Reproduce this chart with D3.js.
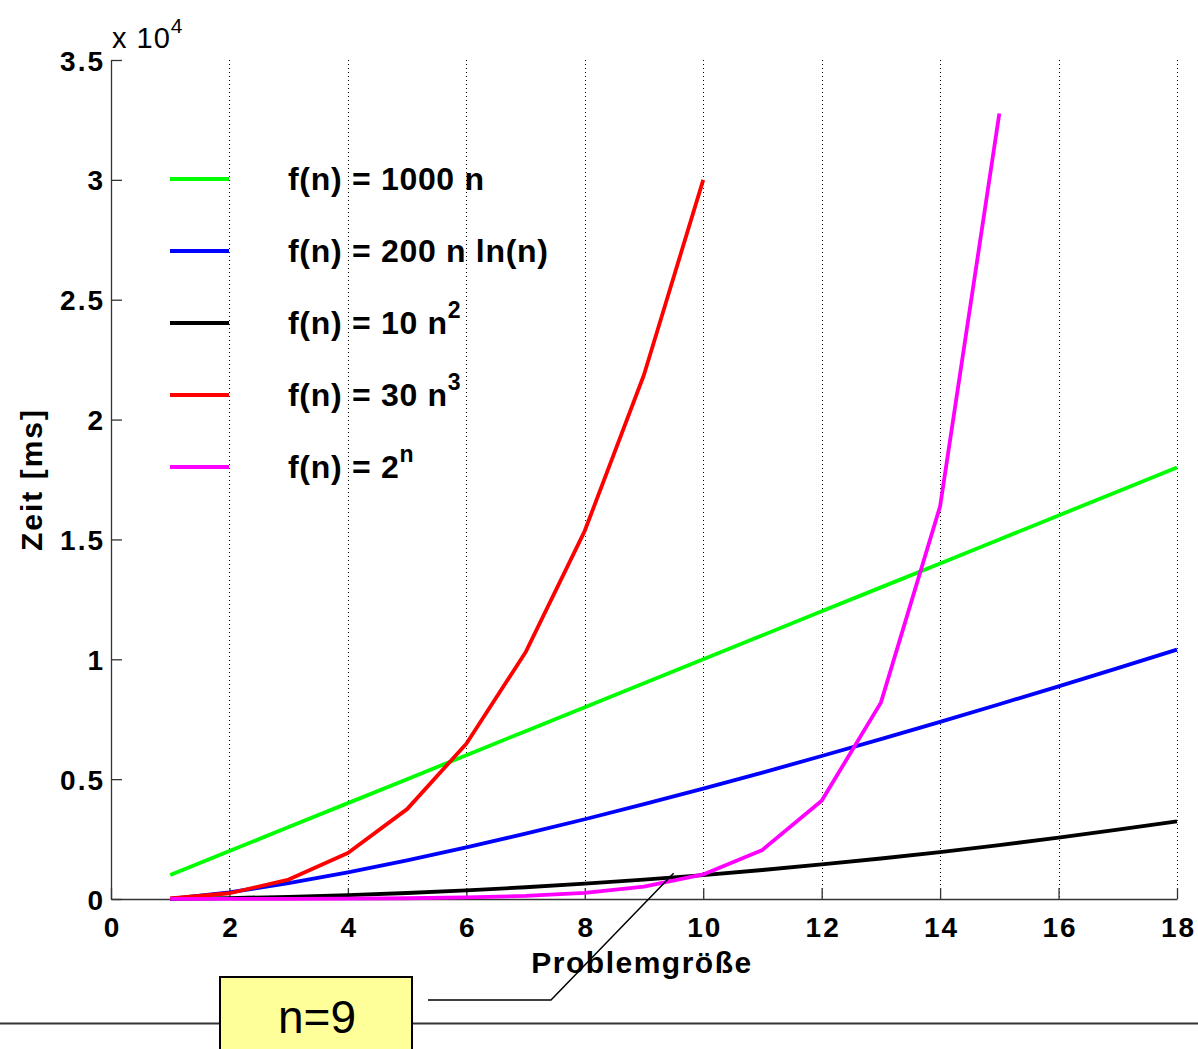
<!DOCTYPE html>
<html>
<head>
<meta charset="utf-8">
<script src="https://cdn.jsdelivr.net/npm/d3@7"></script>
<style>
  body { margin: 0; background: #fff; }
  svg { display: block; font-family: "Liberation Sans", Arial, sans-serif; }
</style>
</head>
<body>
<script>
const width = 1198;
const height = 1049;
const marginLeft = 111;
const marginRight = 21;
const marginTop = 60;
const marginBottom = 150;

// values, n = 1 .. k
const n18 = [1, 2, 3, 4, 5, 6, 7, 8, 9, 10, 11, 12, 13, 14, 15, 16, 17, 18];
const linear = [1000, 2000, 3000, 4000, 5000, 6000, 7000, 8000, 9000, 10000, 11000, 12000, 13000, 14000, 15000, 16000, 17000, 18000];
const nlogn = [0, 277, 659, 1109, 1609, 2150, 2724, 3327, 3955, 4605, 5275, 5964, 6669, 7389, 8124, 8872, 9633, 10405];
const square = [10, 40, 90, 160, 250, 360, 490, 640, 810, 1000, 1210, 1440, 1690, 1960, 2250, 2560, 2890, 3240];
const cube = [30, 240, 810, 1920, 3750, 6480, 10290, 15360, 21870, 30000];
const expo = [2, 4, 8, 16, 32, 64, 128, 256, 512, 1024, 2048, 4096, 8192, 16384, 32768];

const xTicks = [0, 2, 4, 6, 8, 10, 12, 14, 16, 18];
const yTicks = [0, 5000, 10000, 15000, 20000, 25000, 30000, 35000];
const yTickLabels = ["0", "0.5", "1", "1.5", "2", "2.5", "3", "3.5"];

const series = [
  { label: "f(n) = 1000 n", sup: "", color: "#00ff00", values: linear },
  { label: "f(n) = 200 n ln(n)", sup: "", color: "#0000ff", values: nlogn },
  { label: "f(n) = 10 n", sup: "2", color: "#000000", values: square },
  { label: "f(n) = 30 n", sup: "3", color: "#ff0000", values: cube },
  { label: "f(n) = 2", sup: "n", color: "#ff00ff", values: expo }
];

const svg = d3.select("body")
  .append("svg")
  .attr("width", width)
  .attr("height", height)
  .attr("viewBox", [0, 0, width, height]);

const xScale = d3.scaleLinear([0, 18], [marginLeft, width - marginRight]);
const yScale = d3.scaleLinear([0, 35000], [height - marginBottom, marginTop]);

// dotted grid
svg.append("g")
  .attr("stroke", "#000")
  .attr("stroke-width", 1)
  .attr("stroke-dasharray", "1,3")
  .selectAll("line")
  .data(xTicks.slice(1))
  .join("line")
  .attr("x1", d => Math.round(xScale(d)) + 0.5)
  .attr("x2", d => Math.round(xScale(d)) + 0.5)
  .attr("y1", marginTop)
  .attr("y2", height - marginBottom);

// axes
const xAxis = d3.axisBottom(xScale).tickValues(xTicks).tickSizeInner(-11).tickSizeOuter(0).tickPadding(18);
const yAxis = d3.axisLeft(yScale).tickValues(yTicks).tickFormat((d, i) => yTickLabels[i]).tickSizeInner(-11).tickSizeOuter(0).tickPadding(6);

const gx = svg.append("g")
  .attr("transform", `translate(0,${height - marginBottom})`)
  .call(xAxis);
const gy = svg.append("g")
  .attr("transform", `translate(${marginLeft},0)`)
  .call(yAxis);

[gx, gy].forEach(g => {
  g.selectAll("path, line").attr("stroke", "#333").attr("stroke-width", 1.3);
  g.selectAll("text")
    .attr("fill", "#000")
    .attr("font-size", 28)
    .attr("font-weight", "bold")
    .attr("letter-spacing", 2)
    .attr("font-family", "Liberation Sans, Arial, sans-serif");
});
gx.selectAll("text").attr("dy", "0.71em").attr("dx", 1);
gy.selectAll("text").attr("dy", "0.36em");

// exponent label
const expLabel = svg.append("text")
  .attr("x", 112)
  .attr("y", 48)
  .attr("font-size", 29)
  .attr("letter-spacing", 1)
  .attr("fill", "#000");
expLabel.append("tspan").text("x 10");
expLabel.append("tspan").attr("font-size", 21).attr("dy", -15).text("4");

// axis titles
svg.append("text")
  .attr("x", 642)
  .attr("y", 973)
  .attr("text-anchor", "middle")
  .attr("font-size", 30)
  .attr("font-weight", "bold")
  .attr("letter-spacing", 1.5)
  .text("Problemgröße");

svg.append("text")
  .attr("transform", `translate(42,${yScale(17500)}) rotate(-90)`)
  .attr("text-anchor", "middle")
  .attr("font-size", 30)
  .attr("font-weight", "bold")
  .attr("letter-spacing", 2)
  .text("Zeit [ms]");

// lines
const line = d3.line()
  .x((d, i) => xScale(n18[i]))
  .y(d => yScale(d));

svg.append("g")
  .attr("fill", "none")
  .attr("stroke-width", 3.8)
  .attr("stroke-linejoin", "round")
  .selectAll("path")
  .data(series)
  .join("path")
  .attr("stroke", d => d.color)
  .attr("d", d => line(d.values));

// legend
const legend = svg.append("g")
  .selectAll("g")
  .data(series)
  .join("g")
  .attr("transform", (d, i) => `translate(0,${179 + i * 72})`);

legend.append("line")
  .attr("x1", 170)
  .attr("x2", 229)
  .attr("stroke", d => d.color)
  .attr("stroke-width", 3.8);

const legendText = legend.append("text")
  .attr("x", 288)
  .attr("y", 11)
  .attr("font-size", 32)
  .attr("font-weight", "bold")
  .attr("letter-spacing", 0.7)
  .attr("fill", "#000");
legendText.append("tspan").text(d => d.label);
legendText.append("tspan")
  .attr("font-size", 23)
  .attr("dy", -16)
  .text(d => d.sup);

// annotation
svg.append("line")
  .attr("x1", 0).attr("x2", width)
  .attr("y1", 1023.5).attr("y2", 1023.5)
  .attr("stroke", "#333")
  .attr("stroke-width", 2);

svg.append("polyline")
  .attr("points", [[428, 1000], [551, 1000], [xScale(9.5), yScale(1070)]].join(" "))
  .attr("fill", "none")
  .attr("stroke", "#000")
  .attr("stroke-width", 1.5);

svg.append("rect")
  .attr("x", 220)
  .attr("y", 977)
  .attr("width", 192)
  .attr("height", 90)
  .attr("fill", "#ffff99")
  .attr("stroke", "#000")
  .attr("stroke-width", 2);

svg.append("text")
  .attr("x", 317)
  .attr("y", 1033)
  .attr("text-anchor", "middle")
  .attr("font-size", 46)
  .attr("fill", "#000")
  .text("n=9");
</script>
</body>
</html>
